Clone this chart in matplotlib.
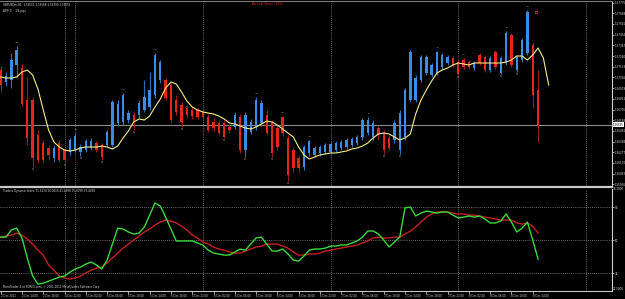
import numpy as np
import matplotlib
matplotlib.use("Agg")
from matplotlib import pyplot as plt

# ---- data (GBPUSD H1, 2-8 Dec 2011) ----
opens = [1.5710, 1.5698, 1.5700, 1.5715, 1.5712, 1.5680, 1.5680, 1.5645, 1.5637, 1.5632,
         1.5622, 1.5637, 1.5630, 1.5628, 1.5630, 1.5628, 1.5630, 1.5632, 1.5637, 1.5635,
         1.5635, 1.5635, 1.5657, 1.5658, 1.5660, 1.5665, 1.5665, 1.5670, 1.5673, 1.5685,
         1.5700, 1.5700, 1.5695, 1.5680, 1.5675, 1.5672, 1.5670, 1.5670, 1.5668, 1.5663,
         1.5658, 1.5657, 1.5657, 1.5653, 1.5653, 1.5663, 1.5630, 1.5648, 1.5653, 1.5657,
         1.5665, 1.5657, 1.5652, 1.5663, 1.5642, 1.5630, 1.5622, 1.5613, 1.5627, 1.5625,
         1.5627, 1.5628, 1.5628, 1.5630, 1.5632, 1.5633, 1.5635, 1.5637, 1.5643, 1.5647,
         1.5643, 1.5652, 1.5647, 1.5642, 1.5640, 1.5630, 1.5643, 1.5680, 1.5680, 1.5700,
         1.5707, 1.5705, 1.5707, 1.5713, 1.5717, 1.5722, 1.5718, 1.5720, 1.5718, 1.5712,
         1.5725, 1.5723, 1.5710, 1.5728, 1.5707, 1.5717, 1.5745, 1.5710, 1.5720, 1.5727,
         1.5735, 1.5690]
highs = [1.5714, 1.5708, 1.5727, 1.5734, 1.5716, 1.5702, 1.5683, 1.5650, 1.5640, 1.5635,
         1.5635, 1.5640, 1.5632, 1.5642, 1.5647, 1.5636, 1.5641, 1.5642, 1.5639, 1.5637,
         1.5650, 1.5680, 1.5680, 1.5687, 1.5670, 1.5668, 1.5680, 1.5700, 1.5708, 1.5727,
         1.5720, 1.5702, 1.5697, 1.5685, 1.5678, 1.5675, 1.5673, 1.5672, 1.5672, 1.5666,
         1.5662, 1.5660, 1.5660, 1.5656, 1.5668, 1.5666, 1.5668, 1.5661, 1.5683, 1.5680,
         1.5670, 1.5660, 1.5655, 1.5664, 1.5645, 1.5633, 1.5625, 1.5635, 1.5640, 1.5634,
         1.5635, 1.5637, 1.5638, 1.5639, 1.5640, 1.5642, 1.5643, 1.5645, 1.5662, 1.5663,
         1.5660, 1.5654, 1.5650, 1.5645, 1.5660, 1.5670, 1.5692, 1.5730, 1.5705, 1.5725,
         1.5725, 1.5717, 1.5729, 1.5727, 1.5725, 1.5724, 1.5720, 1.5722, 1.5720, 1.5719,
         1.5727, 1.5725, 1.5724, 1.5730, 1.5724, 1.5749, 1.5747, 1.5725, 1.5742, 1.5770,
         1.5738, 1.5710]
lows = [1.5688, 1.5694, 1.5692, 1.5703, 1.5674, 1.5635, 1.5613, 1.5617, 1.5617, 1.5620,
        1.5618, 1.5618, 1.5617, 1.5625, 1.5628, 1.5624, 1.5628, 1.5630, 1.5628, 1.5620,
        1.5633, 1.5633, 1.5654, 1.5655, 1.5657, 1.5650, 1.5662, 1.5668, 1.5670, 1.5682,
        1.5697, 1.5680, 1.5657, 1.5665, 1.5653, 1.5662, 1.5661, 1.5661, 1.5660, 1.5648,
        1.5649, 1.5645, 1.5642, 1.5647, 1.5651, 1.5627, 1.5623, 1.5646, 1.5650, 1.5654,
        1.5645, 1.5623, 1.5630, 1.5644, 1.5599, 1.5608, 1.5608, 1.5610, 1.5624, 1.5623,
        1.5624, 1.5626, 1.5626, 1.5628, 1.5630, 1.5631, 1.5633, 1.5635, 1.5640, 1.5645,
        1.5640, 1.5640, 1.5626, 1.5630, 1.5637, 1.5626, 1.5640, 1.5678, 1.5678, 1.5698,
        1.5705, 1.5703, 1.5705, 1.5711, 1.5715, 1.5713, 1.5705, 1.5711, 1.5711, 1.5710,
        1.5715, 1.5708, 1.5708, 1.5711, 1.5706, 1.5715, 1.5713, 1.5708, 1.5718, 1.5725,
        1.5672, 1.5638]
closes = [1.5695, 1.5704, 1.5720, 1.5730, 1.5676, 1.5642, 1.5622, 1.5620, 1.5620, 1.5625,
          1.5632, 1.5620, 1.5620, 1.5640, 1.5644, 1.5633, 1.5639, 1.5639, 1.5630, 1.5623,
          1.5648, 1.5678, 1.5676, 1.5685, 1.5667, 1.5657, 1.5677, 1.5683, 1.5690, 1.5725,
          1.5718, 1.5682, 1.5660, 1.5668, 1.5658, 1.5665, 1.5664, 1.5663, 1.5663, 1.5650,
          1.5652, 1.5647, 1.5643, 1.5650, 1.5665, 1.5630, 1.5665, 1.5658, 1.5680, 1.5677,
          1.5647, 1.5627, 1.5633, 1.5647, 1.5605, 1.5612, 1.5612, 1.5633, 1.5639, 1.5632,
          1.5633, 1.5635, 1.5636, 1.5637, 1.5638, 1.5640, 1.5641, 1.5643, 1.5660, 1.5660,
          1.5657, 1.5645, 1.5630, 1.5632, 1.5657, 1.5667, 1.5690, 1.5728, 1.5702, 1.5723,
          1.5723, 1.5715, 1.5728, 1.5725, 1.5723, 1.5715, 1.5706, 1.5713, 1.5713, 1.5717,
          1.5717, 1.5710, 1.5722, 1.5713, 1.5722, 1.5747, 1.5715, 1.5723, 1.5740, 1.5768,
          1.5685, 1.56555]

# smoothed average (runs two bars past the last candle)
ma_line = [1.5703, 1.5702, 1.5702, 1.5703, 1.5708, 1.5710, 1.5705, 1.5691, 1.5670, 1.5650,
           1.5638, 1.5633, 1.5630, 1.5629, 1.5630, 1.5632, 1.5633, 1.5633, 1.5633, 1.5634,
           1.5633, 1.5631, 1.5634, 1.5642, 1.5649, 1.5658, 1.5661, 1.5660, 1.5664, 1.5673,
           1.5681, 1.5692, 1.5698, 1.5696, 1.5688, 1.5679, 1.5673, 1.5670, 1.5668, 1.5667,
           1.5666, 1.5664, 1.5661, 1.5657, 1.5656, 1.5654, 1.5652, 1.5651, 1.5653, 1.5656,
           1.5659, 1.5658, 1.5655, 1.5651, 1.5647, 1.5643, 1.5633, 1.5625, 1.5621, 1.5623,
           1.5625, 1.5626, 1.5627, 1.5627, 1.5628, 1.5629, 1.5631, 1.5632, 1.5634, 1.5637,
           1.5642, 1.5646, 1.5647, 1.5646, 1.5643, 1.5640, 1.5642, 1.5646, 1.5666, 1.5680,
           1.5690, 1.5699, 1.5707, 1.5710, 1.5712, 1.5715, 1.5717, 1.5716, 1.5715, 1.5717,
           1.5717, 1.5717, 1.5717, 1.5717, 1.5717, 1.5718, 1.5720, 1.5724, 1.5724, 1.5720,
           1.5725, 1.5732, 1.5722, 1.5695]

# Traders Dynamic Index: RSI price line (green) and trade signal line (red)
tdi_green = [51.6, 51.6, 55.5, 56.5, 51.1, 40.2, 30.4, 26.0, 26.5, 27.6,
             28.7, 29.8, 30.4, 32.5, 34.2, 35.3, 36.9, 38.0, 36.4, 34.2,
             39.1, 47.8, 56.5, 56.0, 54.4, 53.3, 53.8, 57.1, 63.6, 70.2,
             68.5, 62.5, 56.0, 49.5, 49.5, 49.5, 49.5, 48.4, 47.3, 44.5,
             42.9, 42.4, 41.8, 41.8, 43.5, 45.1, 44.5, 47.8, 51.1, 51.6,
             47.8, 44.0, 44.0, 45.1, 42.4, 39.1, 38.5, 41.3, 44.5, 45.1,
             45.1, 45.6, 46.7, 46.7, 47.3, 47.3, 48.4, 49.5, 51.6, 54.9,
             54.9, 53.3, 50.0, 46.2, 48.9, 51.6, 67.5, 68.0, 63.1, 64.7,
             65.8, 65.3, 64.7, 65.3, 65.3, 63.6, 62.0, 62.5, 63.1, 62.5,
             63.1, 61.5, 59.3, 59.3, 60.4, 64.2, 59.8, 54.4, 56.5, 59.8,
             50.0, 39.6]
tdi_red = [51.6, 52.2, 52.7, 53.8, 52.7, 50.5, 47.8, 44.5, 41.8, 36.4,
           33.6, 30.4, 29.3, 28.7, 29.3, 30.4, 32.0, 33.6, 34.7, 35.3,
           37.5, 40.2, 42.9, 45.6, 47.8, 50.0, 52.2, 54.4, 56.0, 58.2,
           59.8, 60.9, 60.4, 59.3, 57.6, 55.5, 52.7, 51.1, 48.9, 47.8,
           46.2, 45.1, 44.5, 43.5, 42.9, 42.9, 44.0, 45.1, 46.2, 46.7,
           47.8, 47.8, 47.8, 46.7, 45.6, 43.5, 41.8, 41.8, 42.4, 42.4,
           42.9, 44.0, 44.5, 45.1, 45.6, 46.2, 46.7, 47.3, 48.4, 49.5,
           51.1, 51.6, 51.1, 51.1, 51.6, 51.6, 53.3, 54.9, 57.1, 59.8,
           62.5, 64.2, 65.3, 65.3, 65.3, 64.7, 64.2, 64.2, 63.6, 63.6,
           63.1, 62.5, 62.0, 61.5, 60.9, 60.9, 60.9, 59.3, 58.7, 59.3,
           57.6, 53.8]
tdi_levels = [32, 50, 68]

fractal_up = [3, 14, 23, 29, 48, 53, 58, 69, 82, 87, 95, 99]
fractal_down = [6, 12, 15, 19, 25, 34, 42, 46, 51, 54, 72, 75, 86, 94, 97]
sell_signal_bar, sell_signal_price = 100, 1.5768

day_separators = [12, 14, 38, 62, 86, 110]

time_labels = ["2 Dec 2011", "2 Dec 14:00", "2 Dec 18:00", "4 Dec 22:00",
               "5 Dec 02:00", "5 Dec 06:00", "5 Dec 10:00", "5 Dec 14:00", "5 Dec 18:00", "5 Dec 22:00",
               "6 Dec 02:00", "6 Dec 06:00", "6 Dec 10:00", "6 Dec 14:00", "6 Dec 18:00", "6 Dec 22:00",
               "7 Dec 02:00", "7 Dec 06:00", "7 Dec 10:00", "7 Dec 14:00", "7 Dec 18:00", "7 Dec 22:00",
               "8 Dec 02:00", "8 Dec 06:00", "8 Dec 10:00", "8 Dec 14:00"]
price_ticks = [1.57775 - 0.00107 * k for k in range(18)]
bid = 1.56555

# ---- style ----
BG = "black"
FG = "#d8d8d8"
BULL, BULL_W = "#3a8de6", "#2f6fb8"
BEAR, BEAR_W = "#e6241c", "#9e1a16"
GRID = "#8c8c8c"
FS = 2.0

W, H = 625, 299
fig = plt.figure(figsize=(W / 100, H / 100), dpi=100, facecolor=BG)


def px_box(x0, y0, x1, y1):
    return [x0 / W, 1 - y1 / H, (x1 - x0) / W, (y1 - y0) / H]


ax = fig.add_axes(px_box(0, 1, 612, 186.5), facecolor=BG)
ax2 = fig.add_axes(px_box(0, 188.5, 612, 290.5), facecolor=BG)

n = len(closes)
idx = np.arange(n)
o, h, l, c = map(np.array, (opens, highs, lows, closes))
up = c >= o

# candles
ax.vlines(idx[up], l[up], h[up], color=BULL_W, lw=0.8, zorder=3)
ax.vlines(idx[~up], l[~up], h[~up], color=BEAR_W, lw=0.8, zorder=3)
ax.bar(idx[up], (c - o)[up], bottom=o[up], width=0.45, color=BULL, zorder=4, linewidth=0)
ax.bar(idx[~up], (c - o)[~up], bottom=o[~up], width=0.45, color=BEAR, zorder=4, linewidth=0)

ax.plot(np.arange(len(ma_line)), ma_line, color="#f6ee84", lw=0.8, zorder=5)

for i in fractal_up:
    ax.annotate("^", (i, highs[i]), xytext=(0, 0.3), textcoords="offset points",
                ha="center", va="bottom", fontsize=2.8, color="#b4b4b4", zorder=6)
for i in fractal_down:
    ax.annotate("v", (i, lows[i]), xytext=(0, -0.3), textcoords="offset points",
                ha="center", va="top", fontsize=2.6, color="#b4b4b4", zorder=6)
ax.plot(sell_signal_bar + 0.6, sell_signal_price, "s", ms=1.6, mfc="none", mec="#e03030",
        mew=0.6, zorder=6)

ax.axhline(bid, color="#8a8a8a", lw=0.8, zorder=2)

# lower window
ax2.plot(idx, tdi_red, color="#c42020", lw=1.0, zorder=4)
ax2.plot(idx, tdi_green, color="#3ad83a", lw=1.0, zorder=5)
for lv in tdi_levels:
    ax2.axhline(lv, color=GRID, lw=0.6, ls=(0, (1, 1.5)), zorder=1)

xlim = (-0.13, 114.9)
for a in (ax, ax2):
    a.set_xlim(*xlim)
    for s in day_separators:
        a.axvline(s, color=GRID, lw=0.6, ls=(0, (1, 1.5)), zorder=1)
    a.spines["left"].set_visible(False)
    a.spines["right"].set_color("#cfcfcf")
    a.spines["right"].set_linewidth(0.8)
    a.yaxis.tick_right()
    a.tick_params(axis="y", colors=FG, labelsize=FS, length=1.5, width=0.5, pad=0.8)

ax.set_ylim(1.55935, 1.5779)
ax.set_yticks(price_ticks)
ax.set_yticklabels([f"{p:.5f}" for p in price_ticks])
ax.set_xticks([])
ax.spines["top"].set_color("#7a7a7a")
ax.spines["top"].set_linewidth(0.8)
ax.spines["bottom"].set_color("#c8c8c8")
ax.spines["bottom"].set_linewidth(1.6)

ax2.set_ylim(22.5, 78.1)
ax2.set_yticks(tdi_levels)
ax2.set_yticklabels([str(v) for v in tdi_levels])
ax2.spines["top"].set_visible(False)
ax2.spines["bottom"].set_color("#c8c8c8")
ax2.spines["bottom"].set_linewidth(0.8)
ax2.set_xticks(np.arange(0, 4 * len(time_labels), 4))
ax2.set_xticklabels(time_labels, ha="left")
ax2.tick_params(axis="x", colors=FG, labelsize=1.9, length=2, width=0.5, pad=0.5)

# bid marker on the price scale
fig.text(613 / W, 1 - 124.5 / H, f"{bid:.5f}", fontsize=FS, color="black", va="center",
         bbox=dict(boxstyle="square,pad=0.1", fc="white", ec="none"))
fig.text(613 / W, 1 - 189.5 / H, "78.1000", fontsize=FS, color=FG, va="center")
fig.text(613 / W, 1 - 289.5 / H, "22.5000", fontsize=FS, color=FG, va="center")

# chart captions
fig.text(3 / W, 1 - 4.5 / H, "GBPUSDm,H1  1.56551 1.56588 1.56390 1.56555", fontsize=FS,
         color=FG, va="center")
fig.text(3 / W, 1 - 11 / H, "ATR(7)    44 pips", fontsize=FS, color=FG, va="center")
fig.text(252 / W, 1 - 4 / H, "Bar Left: 6min (~10%)", fontsize=FS, color="#ff2a2a", va="center")
fig.text(3 / W, 1 - 191 / H, "Traders Dynamic Index 71.6234 50.0616 41.4998 35.6099 33.4028",
         fontsize=FS, color=FG, va="center")
fig.text(3 / W, 1 - 287 / H, "MetaTrader 4 at FOREX.com, \u00a9 2001-2011 MetaQuotes Software Corp.",
         fontsize=FS, color=FG, va="center")

fig.savefig("out.png", dpi=100, facecolor=BG)
